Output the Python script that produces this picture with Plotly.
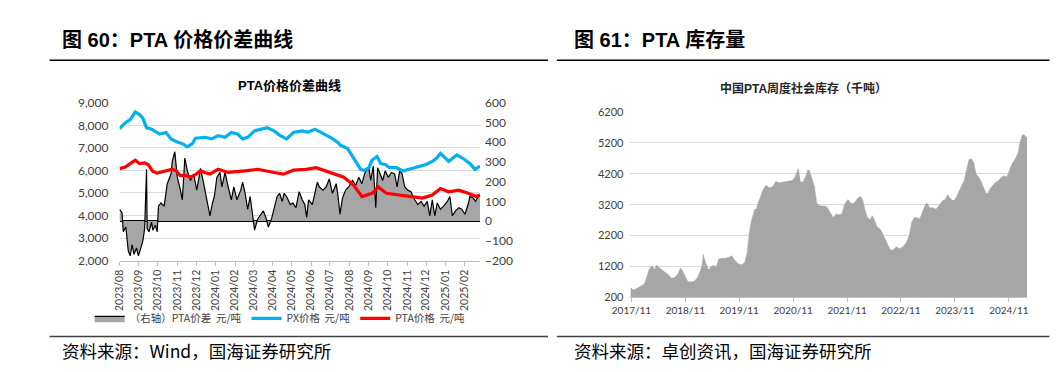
import plotly.graph_objects as go

# ---------------- Left chart data (图60) ----------------
spread_dates = ["2023-08-01","2023-08-05","2023-08-07","2023-08-11","2023-08-15","2023-08-18","2023-08-21","2023-08-24","2023-08-28","2023-08-31",
"2023-09-04","2023-09-07","2023-09-10","2023-09-13","2023-09-14","2023-09-17","2023-09-21","2023-09-23","2023-09-27","2023-09-30",
"2023-10-02","2023-10-06","2023-10-11","2023-10-16","2023-10-22","2023-10-24","2023-10-28","2023-11-01","2023-11-06","2023-11-09",
"2023-11-13","2023-11-17","2023-11-22","2023-11-27","2023-12-02","2023-12-08","2023-12-13","2023-12-18","2023-12-23","2023-12-27",
"2023-12-30","2024-01-03","2024-01-08","2024-01-11","2024-01-16","2024-01-21","2024-01-26","2024-01-30","2024-02-04","2024-02-10",
"2024-02-13","2024-02-17","2024-02-21","2024-02-25","2024-02-29","2024-03-03","2024-03-08","2024-03-13","2024-03-17","2024-03-21",
"2024-03-25","2024-03-30","2024-04-03","2024-04-08","2024-04-12","2024-04-16","2024-04-19","2024-04-23","2024-04-29","2024-05-03",
"2024-05-08","2024-05-13","2024-05-18","2024-05-22","2024-05-25","2024-05-28","2024-06-03","2024-06-07","2024-06-11","2024-06-14",
"2024-06-20","2024-06-25","2024-06-30","2024-07-05","2024-07-11","2024-07-14","2024-07-17","2024-07-21","2024-07-26","2024-07-31",
"2024-08-06","2024-08-11","2024-08-16","2024-08-21","2024-08-26","2024-09-01","2024-09-04","2024-09-08","2024-09-12","2024-09-15",
"2024-09-19","2024-09-23","2024-09-27","2024-10-02","2024-10-07","2024-10-12","2024-10-16","2024-10-20","2024-10-24","2024-10-28",
"2024-11-02","2024-11-07","2024-11-13","2024-11-18","2024-11-23","2024-11-28","2024-12-03","2024-12-07","2024-12-11","2024-12-15",
"2024-12-19","2024-12-24","2024-12-29","2025-01-04","2025-01-08","2025-01-12","2025-01-17","2025-01-22","2025-01-27","2025-02-01",
"2025-02-06","2025-02-09","2025-02-14","2025-02-18","2025-02-22","2025-02-25"]
spread_vals = [60,43,-54,-30,-152,-176,-119,-168,-136,-176,
-136,-103,-38,263,-38,-54,-5,-46,-21,-54,
76,92,76,190,239,303,352,222,157,108,
320,255,206,239,157,268,190,108,27,92,
125,222,247,174,247,174,108,174,108,157,
198,141,60,125,11,-46,11,35,52,19,
-30,11,60,125,141,100,141,125,84,92,
68,149,108,84,19,108,84,141,198,174,
157,174,214,141,190,125,35,117,157,174,
206,182,222,190,247,271,206,279,68,271,
239,206,255,222,247,240,174,255,239,174,
157,149,108,84,100,76,100,27,108,27,
92,60,76,100,125,27,52,68,60,35,
84,125,117,100,125,133]

px_dates = ["2023-08-01","2023-08-10","2023-08-18","2023-08-26","2023-09-02","2023-09-07","2023-09-13","2023-09-21","2023-10-04","2023-10-14",
"2023-10-22","2023-11-01","2023-11-09","2023-11-17","2023-11-25","2023-11-30","2023-12-15","2023-12-26","2024-01-05","2024-01-16",
"2024-01-26","2024-02-05","2024-02-13","2024-02-21","2024-03-03","2024-03-13","2024-03-23","2024-04-03","2024-04-13","2024-04-23",
"2024-05-04","2024-05-17","2024-05-27","2024-06-07","2024-06-22","2024-07-03","2024-07-13","2024-07-18","2024-07-29","2024-08-08",
"2024-08-19","2024-08-25","2024-09-01","2024-09-06","2024-09-14","2024-09-20","2024-09-27","2024-10-04","2024-10-15","2024-10-25",
"2024-11-05","2024-11-15","2024-12-01","2024-12-11","2024-12-18","2024-12-24","2024-12-31","2025-01-06","2025-01-19","2025-02-01",
"2025-02-09","2025-02-17","2025-02-25"]
px_vals = [7850,8110,8255,8600,8470,8325,7900,7830,7615,7683,
7400,7256,7188,7043,7188,7427,7470,7400,7542,7470,
7683,7615,7400,7470,7756,7830,7897,7756,7542,7400,
7683,7756,7700,7830,7615,7450,7256,7115,6975,6548,
6048,6000,6120,6450,6616,6300,6262,6120,6120,5975,
6050,6120,6262,6400,6550,6760,6550,6400,6690,6475,
6300,6048,6190]

pta_dates = ["2023-08-01","2023-08-10","2023-08-18","2023-08-26","2023-09-02","2023-09-10","2023-09-16","2023-09-23","2023-09-30","2023-10-11",
"2023-10-24","2023-10-30","2023-11-06","2023-11-13","2023-11-22","2023-11-29","2023-12-08","2023-12-16","2023-12-23","2024-01-05",
"2024-01-21","2024-02-16","2024-03-08","2024-04-03","2024-04-18","2024-05-04","2024-05-24","2024-06-09","2024-07-03","2024-07-23",
"2024-08-08","2024-08-21","2024-09-06","2024-09-16","2024-09-29","2024-10-17","2024-11-05","2024-11-25","2024-12-11","2024-12-24",
"2025-01-06","2025-01-22","2025-02-06","2025-02-19","2025-02-25"]
pta_vals = [6080,6150,6300,6450,6300,6330,6250,5950,5880,5950,
6050,5980,5765,5790,5697,5800,5980,5900,5836,6050,
5910,5980,6050,5910,5836,6010,6050,6124,5910,5697,
5337,4840,4983,5270,4983,4910,4840,4770,4910,5197,
5054,5124,4983,4840,4910]

left_tickvals = ["2023-08-01","2023-09-01","2023-10-01","2023-11-01","2023-12-01","2024-01-01","2024-02-01","2024-03-01","2024-04-01","2024-05-01",
"2024-06-01","2024-07-01","2024-08-01","2024-09-01","2024-10-01","2024-11-01","2024-12-01","2025-01-01","2025-02-01"]
left_ticktext = ["2023/08","2023/09","2023/10","2023/11","2023/12","2024/01","2024/02","2024/03","2024/04","2024/05",
"2024/06","2024/07","2024/08","2024/09","2024/10","2024/11","2024/12","2025/01","2025/02"]

# ---------------- Right chart data (图61) ----------------
inv_dates = ["2017-10-25","2017-11-16","2017-12-08","2017-12-30","2018-01-22","2018-02-02","2018-02-13","2018-02-28","2018-03-17","2018-03-30",
"2018-04-08","2018-04-19","2018-05-11","2018-06-02","2018-06-25","2018-07-17","2018-07-28","2018-08-19","2018-09-11","2018-09-29",
"2018-10-14","2018-10-29","2018-11-17","2018-12-09","2018-12-31","2019-01-23","2019-02-10","2019-02-25","2019-03-02","2019-03-17",
"2019-04-09","2019-04-20","2019-05-12","2019-05-30","2019-06-15","2019-07-06","2019-07-28","2019-08-20","2019-09-11","2019-10-04",
"2019-10-26","2019-11-17","2019-12-09","2019-12-25","2020-01-08","2020-01-23","2020-02-15","2020-02-26","2020-03-07","2020-03-22",
"2020-04-09","2020-05-01","2020-05-23","2020-06-14","2020-07-06","2020-07-29","2020-08-20","2020-09-12","2020-10-04","2020-10-26",
"2020-11-13","2020-12-05","2020-12-20","2021-01-05","2021-01-23","2021-02-08","2021-02-19","2021-03-07","2021-03-25","2021-04-09",
"2021-04-20","2021-05-12","2021-06-04","2021-06-21","2021-07-07","2021-07-29","2021-08-21","2021-09-12","2021-09-28","2021-10-15",
"2021-11-07","2021-11-29","2021-12-21","2022-01-13","2022-01-31","2022-02-15","2022-03-01","2022-03-19","2022-04-06","2022-04-21",
"2022-05-07","2022-05-24","2022-06-16","2022-07-08","2022-07-30","2022-08-21","2022-09-09","2022-10-01","2022-10-23","2022-11-14",
"2022-12-06","2022-12-28","2023-01-13","2023-01-29","2023-02-16","2023-03-08","2023-03-26","2023-04-11","2023-04-26","2023-05-14",
"2023-06-05","2023-06-27","2023-07-19","2023-08-11","2023-08-29","2023-09-13","2023-09-29","2023-10-17","2023-11-04","2023-11-19",
"2023-12-11","2024-01-03","2024-01-18","2024-02-05","2024-02-23","2024-03-09","2024-03-24","2024-04-11","2024-04-29","2024-05-14",
"2024-05-30","2024-06-12","2024-06-28","2024-07-13","2024-07-31","2024-08-23","2024-09-14","2024-10-02","2024-10-17","2024-11-02",
"2024-11-20","2024-12-12","2025-01-03","2025-01-14","2025-01-30","2025-02-12","2025-02-21","2025-03-05"]
inv_vals = [511,440,490,560,620,700,900,1100,1220,1180,
1100,1250,1150,1060,980,900,820,840,950,1150,
1050,880,720,700,720,850,1050,1300,1600,1340,
1080,1185,1237,1185,1444,1465,1465,1496,1548,1392,
1290,1258,1340,1650,2274,2690,3050,3050,3260,3415,
3674,3830,3750,3780,3955,3910,3933,3955,3985,3985,
4090,4370,3933,3933,4090,4330,4300,4040,3780,3260,
3190,3155,3155,3100,2950,2790,2900,2875,2920,3210,
3365,3230,3260,3415,3465,3365,3050,2790,2710,2845,
2690,2480,2400,2170,1960,1735,1735,1840,1775,1840,
1960,2220,2637,2790,2790,2740,2950,3155,3260,3100,
3100,3050,3190,3335,3365,3520,3415,3335,3365,3520,
3750,3985,4300,4660,4680,4555,4190,4090,3933,3780,
3570,3570,3726,3810,3910,3985,4090,4140,4090,4265,
4500,4660,4866,5177,5437,5470,5405,5385]

right_tickvals = ["2017-11-01","2018-11-01","2019-11-01","2020-11-01","2021-11-01","2022-11-01","2023-11-01","2024-11-01"]
right_ticktext = ["2017/11","2018/11","2019/11","2020/11","2021/11","2022/11","2023/11","2024/11"]
inv_yticks = [200,1200,2200,3200,4200,5200,6200]

W, H = 1063, 372
def px_x(v): return v / W
def px_y(v): return 1 - v / H

LAT = "Lato, 'Liberation Sans', sans-serif"
CJK = "'Noto Sans CJK SC', 'Liberation Sans', sans-serif"
TITLE = "'Liberation Sans', 'Noto Sans CJK SC', sans-serif"

fig = go.Figure()

fig.add_trace(go.Scatter(
    x=spread_dates, y=spread_vals, xaxis="x", yaxis="y",
    name="（右轴）PTA价差  元/吨", mode="lines",
    fill="tozeroy", fillcolor="#a6a6a6",
    line=dict(color="#000000", width=1.2),
))
fig.add_trace(go.Scatter(
    x=px_dates, y=px_vals, xaxis="x", yaxis="y2",
    name="PX价格  元/吨", mode="lines",
    line=dict(color="#00b0f0", width=3.2),
))
fig.add_trace(go.Scatter(
    x=pta_dates, y=pta_vals, xaxis="x", yaxis="y2",
    name="PTA价格  元/吨", mode="lines",
    line=dict(color="#ff0000", width=3.2),
))
fig.add_trace(go.Scatter(
    x=inv_dates, y=inv_vals, xaxis="x2", yaxis="y3",
    mode="lines", fill="tozeroy", fillcolor="#a6a6a6",
    line=dict(color="#a6a6a6", width=0.5), showlegend=False,
))

left_dom_x = [px_x(94.3), px_x(461.7)]
left_dom_y = [px_y(254.8), px_y(90.5)]
right_dom_x = [px_x(615), px_x(1019.3)]
right_dom_y = [px_y(293.3), px_y(100)]

tickfont = dict(family=LAT, size=12, color="#404040")

fig.update_layout(
    width=W, height=H,
    margin=dict(l=0, r=0, t=0, b=0),
    paper_bgcolor="white", plot_bgcolor="rgba(0,0,0,0)",
    xaxis=dict(
        domain=left_dom_x, anchor="y", type="date",
        range=["2023-08-01", "2025-02-25"],
        tickmode="array", tickvals=left_tickvals, ticktext=left_ticktext,
        tickangle=-90, tickfont=dict(family=LAT, size=10.5, color="#404040"),
        ticks="outside", ticklen=4, tickcolor="#bfbfbf",
        showline=True, linecolor="#bfbfbf", linewidth=1,
        showgrid=False, zeroline=False,
    ),
    yaxis=dict(
        domain=left_dom_y, anchor="x", side="right",
        range=[-200, 600], dtick=100, tickfont=tickfont,
        showgrid=False, zeroline=True, zerolinecolor="#000000", zerolinewidth=1.5,
        ticks="", ticklabelstandoff=4,
    ),
    yaxis2=dict(
        overlaying="y", anchor="x", side="left",
        range=[2000, 9000], dtick=1000, tickformat=",",
        tickfont=tickfont, showgrid=True, gridcolor="#d9d9d9", gridwidth=1,
        zeroline=False, ticks="", ticklabelstandoff=10,
    ),
    xaxis2=dict(
        domain=right_dom_x, anchor="y3", type="date",
        range=["2017-10-25", "2025-03-05"],
        tickmode="array", tickvals=right_tickvals, ticktext=right_ticktext,
        tickangle=0, tickfont=dict(family=LAT, size=10, color="#404040"),
        ticks="outside", ticklen=4, tickcolor="#bfbfbf",
        showline=True, linecolor="#bfbfbf", linewidth=1,
        showgrid=False, zeroline=False,
    ),
    yaxis3=dict(
        domain=right_dom_y, anchor="x2",
        range=[200, 6200], tickmode="array", tickvals=inv_yticks,
        tickfont=dict(family=LAT, size=11, color="#404040"),
        showgrid=True, gridcolor="#d9d9d9", gridwidth=1,
        zeroline=False, ticks="", ticklabelstandoff=6,
    ),
    legend=dict(
        orientation="h", x=px_x(258), xanchor="center",
        y=px_y(315), yanchor="middle",
        font=dict(family=CJK, size=10.5, color="#404040"),
        bgcolor="rgba(0,0,0,0)", itemwidth=30, tracegroupgap=0,
    ),
    showlegend=True,
)

# rules
rule = dict(type="line", xref="paper", yref="paper")
fig.add_shape(**rule, x0=px_x(23), x1=px_x(531), y0=px_y(46), y1=px_y(46), line=dict(color="#000000", width=1.5))
fig.add_shape(**rule, x0=px_x(540), x1=px_x(1042), y0=px_y(46), y1=px_y(46), line=dict(color="#000000", width=1.5))
fig.add_shape(**rule, x0=px_x(23), x1=px_x(531), y0=px_y(334), y1=px_y(334), line=dict(color="#404040", width=1.5))
fig.add_shape(**rule, x0=px_x(540), x1=px_x(1042), y0=px_y(334), y1=px_y(334), line=dict(color="#404040", width=1.5))

def ann(text, x, y, size, family, bold=False, xanchor="left", color="#000000"):
    fig.add_annotation(
        text=f"<b>{text}</b>" if bold else text,
        x=px_x(x), y=px_y(y), xref="paper", yref="paper",
        xanchor=xanchor, yanchor="middle", showarrow=False,
        font=dict(family=family, size=size, color=color),
    )

ann("图 60：PTA 价格价差曲线", 34, 25, 20, TITLE, bold=True)
ann("图 61：PTA 库存量", 555, 25, 20, TITLE, bold=True)
ann("PTA价格价差曲线", 268, 72, 13, TITLE, bold=True, xanchor="center")
ann("中国PTA周度社会库存（千吨）", 791, 76, 12, TITLE, bold=True, xanchor="center", color="#262626")
ann("资料来源：Wind，国海证券研究所", 34, 349, 17.5, CJK)
ann("资料来源：卓创资讯，国海证券研究所", 555, 349, 17.5, CJK)

fig.write_html("out.html")
